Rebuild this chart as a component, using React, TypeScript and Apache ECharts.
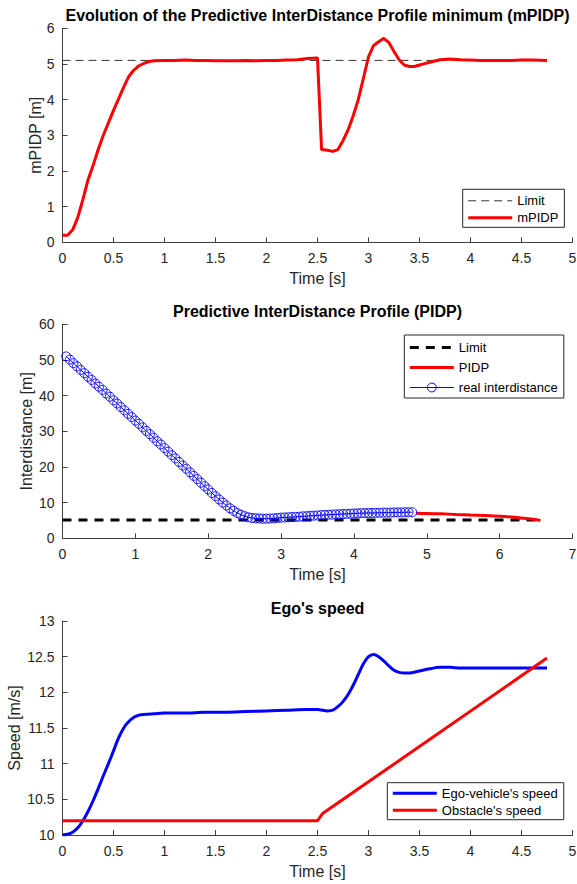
import React, { useEffect, useRef } from "react";
import * as echarts from "echarts";

const FONT = '"Liberation Sans", Arial, Helvetica, sans-serif';

// ---- Chart 1 : mPIDP ----
const mpidpLimitValue = 5.1;
const mpidpLimitRange = [0, 4.75];
const mpidpPoints: [number, number][] = [
  [0, 0.2], [0.05, 0.2], [0.1, 0.35], [0.15, 0.7], [0.2, 1.2], [0.25, 1.75], [0.3, 2.15],
  [0.35, 2.6], [0.4, 3.0], [0.45, 3.35], [0.5, 3.7], [0.55, 4.02], [0.6, 4.35], [0.65, 4.65],
  [0.7, 4.83], [0.75, 4.95], [0.8, 5.02], [0.85, 5.07], [0.9, 5.09], [1.0, 5.1], [1.1, 5.1],
  [1.2, 5.11], [1.3, 5.1], [1.4, 5.1], [1.5, 5.09], [1.6, 5.09], [1.7, 5.09], [1.8, 5.1],
  [1.9, 5.09], [2.0, 5.1], [2.1, 5.1], [2.2, 5.11], [2.3, 5.12], [2.4, 5.15], [2.45, 5.16],
  [2.5, 5.17], [2.54, 2.6], [2.6, 2.58], [2.65, 2.55], [2.7, 2.6], [2.75, 2.85], [2.8, 3.15],
  [2.85, 3.55], [2.9, 4.0], [2.95, 4.6], [3.0, 5.2], [3.05, 5.52], [3.1, 5.62], [3.15, 5.72],
  [3.2, 5.6], [3.25, 5.35], [3.3, 5.12], [3.35, 4.97], [3.4, 4.93], [3.45, 4.93], [3.5, 4.97],
  [3.55, 5.01], [3.6, 5.05], [3.7, 5.12], [3.8, 5.14], [3.9, 5.12], [4.0, 5.11], [4.1, 5.1],
  [4.2, 5.1], [4.3, 5.1], [4.4, 5.1], [4.5, 5.11], [4.6, 5.11], [4.75, 5.1],
];

// ---- Chart 2 : PIDP ----
const pidpLimitValue = 5.1;
const pidpLimitRange = [0, 6.56];
const pidpPoints: [number, number][] = [
  [4.85, 7.0], [5.0, 6.95], [5.2, 6.85], [5.4, 6.7], [5.6, 6.55], [5.8, 6.4], [6.0, 6.2],
  [6.2, 5.9], [6.4, 5.45], [6.56, 5.0],
];
const realInterdistance: [number, number][] = [
  [0.05, 51.0], [0.1, 50.1], [0.15, 49.1], [0.2, 48.2], [0.25, 47.2], [0.3, 46.3], [0.35, 45.3],
  [0.4, 44.4], [0.45, 43.4], [0.5, 42.5], [0.55, 41.6], [0.6, 40.6], [0.65, 39.7], [0.7, 38.7],
  [0.75, 37.8], [0.8, 36.8], [0.85, 35.9], [0.9, 34.9], [0.95, 34.0], [1.0, 33.0], [1.05, 32.1],
  [1.1, 31.1], [1.15, 30.1], [1.2, 29.2], [1.25, 28.2], [1.3, 27.2], [1.35, 26.3], [1.4, 25.3],
  [1.45, 24.3], [1.5, 23.3], [1.55, 22.4], [1.6, 21.4], [1.65, 20.4], [1.7, 19.5], [1.75, 18.5],
  [1.8, 17.5], [1.85, 16.6], [1.9, 15.6], [1.95, 14.6], [2.0, 13.7], [2.05, 12.7], [2.1, 11.8],
  [2.15, 10.9], [2.2, 10.0], [2.25, 9.2], [2.3, 8.4], [2.35, 7.7], [2.4, 7.1], [2.45, 6.6],
  [2.5, 6.2], [2.55, 5.9], [2.6, 5.7], [2.65, 5.6], [2.7, 5.55], [2.75, 5.5], [2.8, 5.5],
  [2.85, 5.55], [2.9, 5.6], [2.95, 5.7], [3.0, 5.8], [3.05, 5.85], [3.1, 5.9], [3.15, 5.95],
  [3.2, 6.0], [3.25, 6.05], [3.3, 6.15], [3.35, 6.2], [3.4, 6.3], [3.45, 6.35], [3.5, 6.4],
  [3.55, 6.5], [3.6, 6.55], [3.65, 6.6], [3.7, 6.65], [3.75, 6.7], [3.8, 6.75], [3.85, 6.8],
  [3.9, 6.85], [3.95, 6.9], [4.0, 6.95], [4.05, 7.0], [4.1, 7.05], [4.15, 7.05], [4.2, 7.1],
  [4.25, 7.1], [4.3, 7.15], [4.35, 7.15], [4.4, 7.2], [4.45, 7.2], [4.5, 7.2], [4.55, 7.25],
  [4.6, 7.25], [4.65, 7.25], [4.7, 7.3], [4.75, 7.3], [4.8, 7.3],
];

// ---- Chart 3 : speeds ----
const egoSpeed: [number, number][] = [
  [0, 10.0], [0.05, 10.01], [0.1, 10.04], [0.15, 10.1], [0.2, 10.2], [0.25, 10.33], [0.3, 10.48],
  [0.35, 10.65], [0.4, 10.83], [0.45, 11.0], [0.5, 11.18], [0.55, 11.36], [0.6, 11.5],
  [0.65, 11.59], [0.7, 11.65], [0.75, 11.68], [0.8, 11.69], [0.9, 11.7], [1.0, 11.71],
  [1.2, 11.71], [1.4, 11.72], [1.6, 11.72], [1.8, 11.73], [2.0, 11.74], [2.2, 11.75],
  [2.4, 11.76], [2.5, 11.76], [2.6, 11.74], [2.65, 11.75], [2.7, 11.8], [2.75, 11.87],
  [2.8, 11.97], [2.85, 12.1], [2.9, 12.25], [2.95, 12.4], [3.0, 12.5], [3.05, 12.53],
  [3.1, 12.5], [3.15, 12.44], [3.2, 12.37], [3.25, 12.31], [3.3, 12.28], [3.35, 12.27],
  [3.4, 12.27], [3.5, 12.3], [3.6, 12.33], [3.7, 12.35], [3.8, 12.35], [3.9, 12.34],
  [4.0, 12.34], [4.2, 12.34], [4.4, 12.34], [4.6, 12.34], [4.75, 12.34],
];
const obstacleSpeed: [number, number][] = [
  [0, 10.2], [2.5, 10.2], [2.55, 10.3], [4.75, 12.48],
];

const titles = [
  "Evolution of the Predictive InterDistance Profile minimum (mPIDP)",
  "Predictive InterDistance Profile (PIDP)",
  "Ego's speed",
];
const yNames = ["mPIDP [m]", "Interdistance [m]", "Speed [m/s]"];
const xName = "Time [s]";

const AXIS_COLOR = "#404040";
const TEXT_COLOR = "#262626";

const GRID_LEFT = 62.5;
const GRID_WIDTH = 510;
const GRID_HEIGHT = 214;
const GRID_TOPS = [28.3, 324.3, 621];

function xAxis(gridIndex: number, max: number, interval: number) {
  return {
    type: "value",
    gridIndex,
    min: 0,
    max,
    interval,
    name: xName,
    nameLocation: "middle",
    nameGap: 28,
    nameMoveOverlap: false,
    nameTextStyle: { color: TEXT_COLOR, fontSize: 16, fontFamily: FONT },
    axisLine: { show: true, onZero: false, lineStyle: { color: AXIS_COLOR, width: 1 } },
    axisTick: { show: true, inside: true, length: 5, lineStyle: { color: AXIS_COLOR, width: 1 } },
    axisLabel: { color: TEXT_COLOR, fontSize: 14, fontFamily: FONT, margin: 9 },
    splitLine: { show: false },
  };
}

function yAxis(gridIndex: number, min: number, max: number, interval: number, name: string, gap: number) {
  return {
    type: "value",
    gridIndex,
    min,
    max,
    interval,
    name,
    nameLocation: "middle",
    nameGap: gap,
    nameMoveOverlap: false,
    nameTextStyle: { color: TEXT_COLOR, fontSize: 16, fontFamily: FONT },
    axisLine: { show: true, onZero: false, lineStyle: { color: AXIS_COLOR, width: 1 } },
    axisTick: { show: true, inside: true, length: 5, lineStyle: { color: AXIS_COLOR, width: 1 } },
    axisLabel: { color: TEXT_COLOR, fontSize: 14, fontFamily: FONT, margin: 8 },
    splitLine: { show: false },
  };
}

const legendNames: Record<string, string> = {
  "Limit#1": "Limit",
  "Limit#2": "Limit",
};

function legend(left: number, top: number, data: any[], padding: number[], itemGap: number, itemHeight: number) {
  return {
    orient: "vertical",
    left,
    top,
    padding,
    itemGap,
    itemWidth: 44,
    itemHeight,
    borderColor: "#262626",
    borderWidth: 1,
    backgroundColor: "#ffffff",
    selectedMode: false,
    textStyle: { color: "#000", fontSize: 13, fontFamily: FONT },
    formatter: (n: string) => legendNames[n] ?? n,
    data,
  };
}

const hiddenSymbol = { opacity: 0 };

const option: any = {
  animation: false,
  backgroundColor: "#ffffff",
  textStyle: { fontFamily: FONT },
  title: titles.map((t, i) => ({
    text: t,
    left: GRID_LEFT + GRID_WIDTH / 2,
    top: GRID_TOPS[i] - 21,
    textAlign: "center",
    padding: 0,
    textStyle: { color: "#000", fontSize: 16, fontWeight: "bold", fontFamily: FONT },
  })),
  grid: GRID_TOPS.map((top) => ({
    left: GRID_LEFT,
    top,
    width: GRID_WIDTH,
    height: GRID_HEIGHT,
    containLabel: false,
    outerBoundsMode: "none",
  })),
  xAxis: [xAxis(0, 5, 0.5), xAxis(1, 7, 1), xAxis(2, 5, 0.5)],
  yAxis: [
    yAxis(0, 0, 6, 1, yNames[0], 19.5),
    yAxis(1, 0, 60, 10, yNames[1], 28),
    yAxis(2, 10, 13, 0.5, yNames[2], 40.5),
  ],
  legend: [
    legend(462.7, 189.3, [
      { name: "Limit#1", itemStyle: hiddenSymbol, lineStyle: { width: 1, type: [8, 5] } },
      { name: "mPIDP", itemStyle: hiddenSymbol, lineStyle: { width: 3 } },
    ], [5, 6, 3, 4], 4, 14),
    legend(404.3, 335, [
      { name: "Limit#2", itemStyle: hiddenSymbol, lineStyle: { width: 3, type: [9, 7] } },
      { name: "PIDP", itemStyle: hiddenSymbol, lineStyle: { width: 3 } },
      { name: "real interdistance", lineStyle: { width: 1 }, itemStyle: { borderWidth: 1, color: "rgba(255,255,255,0)", borderColor: "#0000ff" } },
    ], [6, 6, 4, 4], 7, 11),
    legend(387.3, 782.7, [
      { name: "Ego-vehicle's speed", itemStyle: hiddenSymbol, lineStyle: { width: 3 } },
      { name: "Obstacle's speed", itemStyle: hiddenSymbol, lineStyle: { width: 3 } },
    ], [4, 6, 3, 4], 4, 14),
  ],
  series: [
    {
      name: "Limit#1",
      type: "line",
      xAxisIndex: 0,
      yAxisIndex: 0,
      symbol: "none",
      lineStyle: { color: "#333333", width: 1, type: [8, 5] },
      itemStyle: { color: "#333333" },
      data: mpidpLimitRange.map((t) => [t, mpidpLimitValue]),
      z: 2,
    },
    {
      name: "mPIDP",
      type: "line",
      xAxisIndex: 0,
      yAxisIndex: 0,
      symbol: "none",
      lineStyle: { color: "#ff0000", width: 3 },
      itemStyle: { color: "#ff0000" },
      data: mpidpPoints,
      z: 3,
    },
    {
      name: "Limit#2",
      type: "line",
      xAxisIndex: 1,
      yAxisIndex: 1,
      symbol: "none",
      lineStyle: { color: "#000000", width: 3, type: [9, 7] },
      itemStyle: { color: "#000000" },
      data: pidpLimitRange.map((t) => [t, pidpLimitValue]),
      z: 2,
    },
    {
      name: "PIDP",
      type: "line",
      xAxisIndex: 1,
      yAxisIndex: 1,
      symbol: "none",
      smooth: 0.3,
      lineStyle: { color: "#ff0000", width: 3 },
      itemStyle: { color: "#ff0000" },
      data: pidpPoints,
      z: 3,
    },
    {
      name: "real interdistance",
      type: "line",
      xAxisIndex: 1,
      yAxisIndex: 1,
      symbol: "circle",
      symbolSize: 9,
      showSymbol: true,
      lineStyle: { color: "#0000ff", width: 1 },
      itemStyle: { color: "rgba(255,255,255,0)", borderColor: "#0000ff", borderWidth: 0.9 },
      data: realInterdistance,
      z: 4,
    },
    {
      name: "Ego-vehicle's speed",
      type: "line",
      xAxisIndex: 2,
      yAxisIndex: 2,
      symbol: "none",
      smooth: 0.3,
      lineStyle: { color: "#0000ff", width: 3 },
      itemStyle: { color: "#0000ff" },
      data: egoSpeed,
      z: 3,
    },
    {
      name: "Obstacle's speed",
      type: "line",
      xAxisIndex: 2,
      yAxisIndex: 2,
      symbol: "none",
      lineStyle: { color: "#ff0000", width: 3 },
      itemStyle: { color: "#ff0000" },
      data: obstacleSpeed,
      z: 3,
    },
  ],
};

export default function App() {
  const ref = useRef<HTMLDivElement>(null);
  useEffect(() => {
    if (!ref.current) return;
    const chart = echarts.init(ref.current, null, { renderer: "svg" });
    chart.setOption(option);
    return () => chart.dispose();
  }, []);
  return (
    <div
      ref={ref}
      style={{ position: "fixed", left: 0, top: 0, width: 577, height: 884, background: "#fff" }}
    />
  );
}
